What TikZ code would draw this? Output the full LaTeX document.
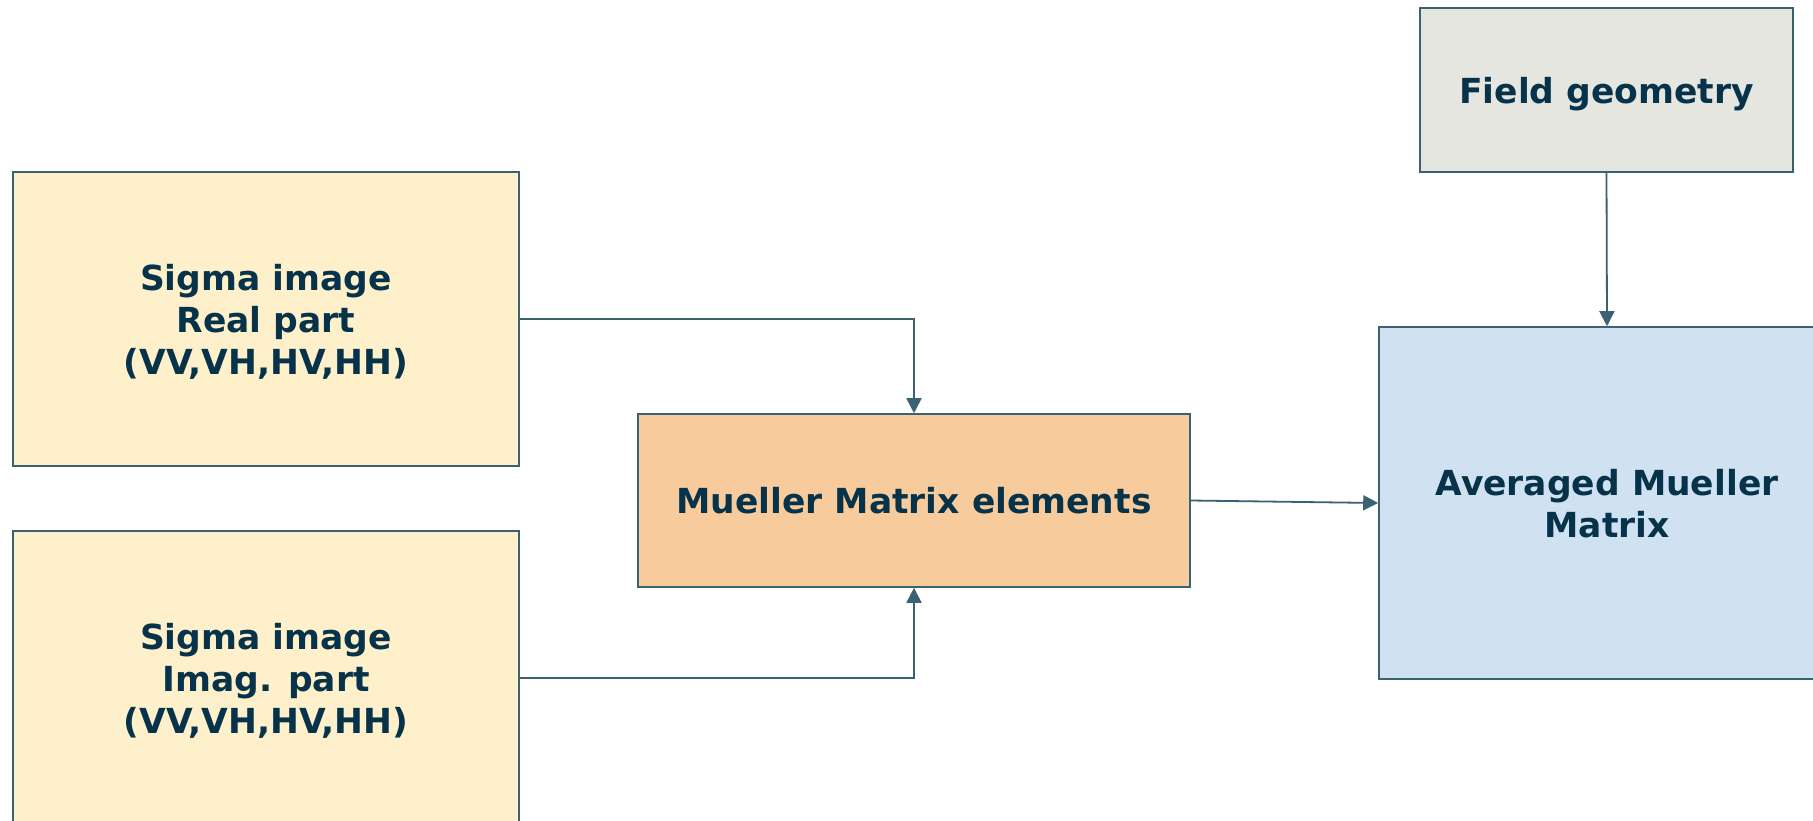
\documentclass[tikz,border=0pt]{standalone}
\usepackage{fontspec}
\setmainfont{DejaVu Sans}
\usetikzlibrary{arrows.meta}
\definecolor{inkblue}{HTML}{06334A}
\definecolor{edge}{HTML}{3A6273}
\definecolor{sigmafill}{HTML}{FFF0CC}
\definecolor{muellerfill}{HTML}{F8CB9C}
\definecolor{avgfill}{HTML}{D0E2F1}
\definecolor{geomfill}{HTML}{E6E6E1}
\tikzset{
  box/.style={draw=edge, line width=1.6pt, inner sep=0pt, align=center,
    text depth=0pt, text=inkblue, font=\fontsize{34.5pt}{42pt}\selectfont\bfseries},
  link/.style={draw=edge, line width=1.8pt, -{Triangle[width=15pt,length=15pt]}}
}
\begin{document}
\begin{tikzpicture}[x=1pt, y=-1pt]
\fill[white] (0,0) rectangle (1813,820);
\begin{scope}
\clip (0,0) rectangle (1813,820);
\node[box, fill=geomfill, minimum width=373pt, minimum height=164pt] (geom) at (1606.5,90) {Field geometry};
\node[box, fill=avgfill, minimum width=456pt, minimum height=352pt] (avg) at (1607,503) {Averaged Mueller\\Matrix};
\node[box, fill=muellerfill, minimum width=552pt, minimum height=173pt] (mm) at (914,500.5) {Mueller Matrix elements};
\node[box, fill=sigmafill, minimum width=506pt, minimum height=294pt] (real) at (266,319) {Sigma image\\Real part\\(VV,VH,HV,HH)};
\node[box, fill=sigmafill, minimum width=506pt, minimum height=294pt] (imag) at (266,678) {Sigma image\\Imag. part\\(VV,VH,HV,HH)};
\draw[link] (real.east) -| (mm.north);
\draw[link] (imag.east) -| (mm.south);
\draw[link] (mm.east) -- (avg.west);
\draw[link] (geom.south) -- (avg.north);
\end{scope}
\pgfresetboundingbox
\path[use as bounding box] (0,0) rectangle (1813,820);
\end{tikzpicture}
\end{document}
